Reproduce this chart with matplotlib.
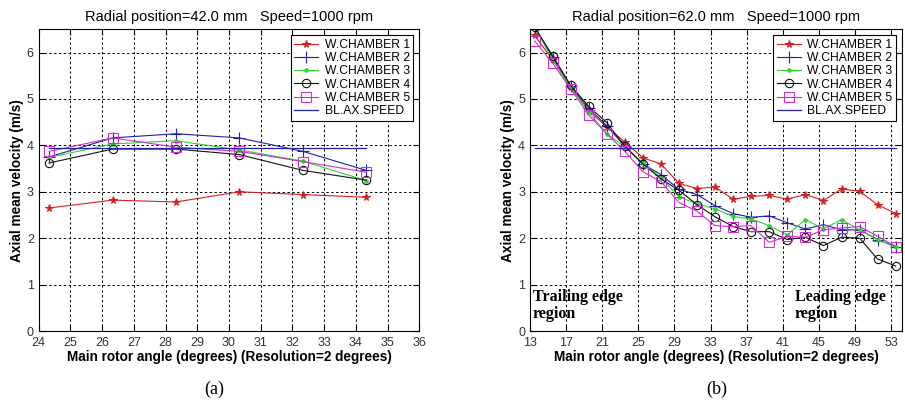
import matplotlib
matplotlib.use("Agg")
import matplotlib.pyplot as plt
import numpy as np

plt.rcParams['font.family'] = ['Liberation Sans', 'DejaVu Sans']

# ---------------- data: panel (a) ----------------
angle_a = [24.33, 26.33, 28.33, 30.33, 32.33, 34.33]
ch1_a = [2.65, 2.82, 2.78, 3.00, 2.94, 2.88]
ch2_a = [3.75, 4.16, 4.25, 4.16, 3.87, 3.46]
ch3_a = [3.74, 4.03, 4.10, 3.90, 3.66, 3.24]
ch4_a = [3.62, 3.92, 3.92, 3.80, 3.46, 3.25]
ch5_a = [3.87, 4.16, 3.96, 3.87, 3.65, 3.42]
blax_a = 3.95

# ---------------- data: panel (b) ----------------
angle_b = [13.5, 15.5, 17.5, 19.5, 21.5, 23.5, 25.5, 27.5, 29.5, 31.5, 33.5,
           35.5, 37.5, 39.5, 41.5, 43.5, 45.5, 47.5, 49.5, 51.5, 53.5]
ch1_b = [6.37, 5.85, 5.25, 4.75, 4.40, 4.07, 3.73, 3.60, 3.18, 3.07, 3.10,
         2.84, 2.90, 2.92, 2.84, 2.94, 2.81, 3.06, 3.01, 2.72, 2.53]
ch2_b = [6.55, 5.90, 5.27, 4.80, 4.42, 3.98, 3.60, 3.37, 3.05, 2.94, 2.70,
         2.53, 2.45, 2.48, 2.33, 2.20, 2.29, 2.18, 2.18, 1.97, 1.82]
ch3_b = [6.55, 5.85, 5.25, 4.72, 4.25, 3.97, 3.62, 3.30, 2.89, 2.74, 2.63,
         2.47, 2.41, 2.27, 2.07, 2.40, 2.20, 2.40, 2.18, 1.97, 1.80]
ch4_b = [6.55, 5.93, 5.29, 4.84, 4.49, 3.98, 3.60, 3.28, 3.03, 2.72, 2.46,
         2.25, 2.14, 2.14, 1.97, 2.02, 1.84, 2.02, 2.00, 1.55, 1.40]
ch5_b = [6.25, 5.77, 5.22, 4.65, 4.25, 3.87, 3.43, 3.22, 2.77, 2.58, 2.27,
         2.25, 2.27, 1.91, 2.04, 2.02, 2.18, 2.22, 2.25, 2.04, 1.82]
blax_b = 3.95

labels = ['W.CHAMBER 1', 'W.CHAMBER 2', 'W.CHAMBER 3', 'W.CHAMBER 4',
          'W.CHAMBER 5', 'BL.AX.SPEED']
colors = ['#d42020', '#2020a8', '#2ed42e', '#111111', '#cc30cc', '#2020a8']
markers = ['*', '+', '.', 'o', 's']
msizes = [5.5, 8, 5, 6, 7]

fig = plt.figure(figsize=(9.05, 4.03), dpi=100)
W, H = 905.0, 403.0
ax_a = fig.add_axes([38.7 / W, 1 - 331 / H, (419.3 - 38.7) / W, (331 - 29.3) / H])
ax_b = fig.add_axes([530 / W, 1 - 331 / H, (902 - 530) / W, (331 - 29.3) / H])


def draw(ax, x, series, blax, xlim, xticks, title):
    for s, c, m, ms in zip(series, colors, markers, msizes):
        ax.plot(x, s, color=c, lw=0.8, marker=m, ms=ms,
                mfc='none' if m in ('o', 's') else c, mec=c, mew=0.8)
    ax.plot([x[0], x[-1]], [blax, blax], color=colors[5], lw=0.9)
    ax.set_xlim(*xlim)
    ax.set_ylim(0, 6.5)
    ax.set_xticks(xticks)
    ax.set_yticks([0, 1, 2, 3, 4, 5, 6])
    ax.grid(True, color='black', linestyle=(0, (2.5, 2.5)), lw=0.7)
    ax.tick_params(direction='in', length=4, labelsize=9, colors='black',
                   top=True, right=True, labelcolor='#333333')
    ax.tick_params(axis='x', pad=4)
    ax.tick_params(axis='y', pad=3.5)
    for sp in ax.spines.values():
        sp.set_linewidth(0.8)
    ax.set_title(title, fontsize=10.5, pad=6)
    ax.set_xlabel('Main rotor angle (degrees) (Resolution=2 degrees)',
                  fontsize=9.8, fontweight='bold', labelpad=1)
    ax.set_ylabel('Axial mean velocity (m/s)', fontsize=9.8, fontweight='bold',
                  labelpad=2)
    leg = ax.legend(labels, loc='upper right', fontsize=8.7, frameon=True,
                    fancybox=False, framealpha=1, edgecolor='black',
                    handlelength=2.0, labelspacing=0.1, borderpad=0.3,
                    handletextpad=0.5, borderaxespad=0.5)
    leg.get_frame().set_linewidth(0.8)


draw(ax_a, angle_a, [ch1_a, ch2_a, ch3_a, ch4_a, ch5_a], blax_a, (24, 36),
     list(range(24, 37)), 'Radial position=42.0 mm   Speed=1000 rpm')
draw(ax_b, angle_b, [ch1_b, ch2_b, ch3_b, ch4_b, ch5_b], blax_b, (13, 54.2),
     list(range(13, 54, 4)), 'Radial position=62.0 mm   Speed=1000 rpm')

serif = ['Liberation Serif', 'DejaVu Serif']
ax_b.text(13.3, 0.2, 'Trailing edge\nregion', family=serif, fontsize=11.5,
          fontweight='bold', ha='left', va='bottom', linespacing=1.05)
ax_b.text(42.3, 0.2, 'Leading edge\nregion', family=serif, fontsize=11.5,
          fontweight='bold', ha='left', va='bottom', linespacing=1.05)

fig.text(214 / W, 1 - 389 / H, '(a)', family=serif, fontsize=13,
         ha='center', va='center')
fig.text(717 / W, 1 - 389 / H, '(b)', family=serif, fontsize=13,
         ha='center', va='center')

fig.savefig('out.png', dpi=100, facecolor='white')
